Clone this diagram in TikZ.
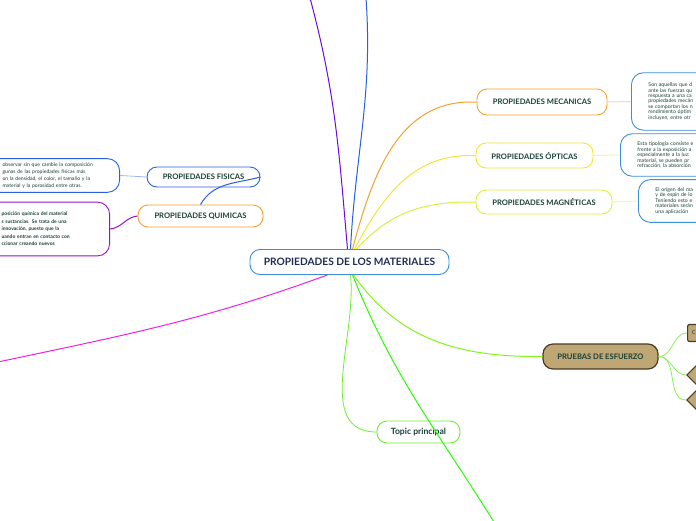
\documentclass[tikz,border=0pt]{standalone}
\usepackage{fontspec}
\setmainfont{Lato}
\usepackage{xcolor}
\usetikzlibrary{shapes.geometric,positioning}

\definecolor{txtdark}{HTML}{1A4035}
\definecolor{txtnavy}{HTML}{1E2E50}
\definecolor{bluemain}{HTML}{3A8FD8}
\definecolor{orangeb}{HTML}{F5A030}
\definecolor{yellowb}{HTML}{F5E435}
\definecolor{limeb}{HTML}{D6F23A}
\definecolor{blueb}{HTML}{2A5FE0}
\definecolor{purpleb}{HTML}{9A10D0}
\definecolor{magentab}{HTML}{F020E8}
\definecolor{tanfill}{HTML}{BFA675}
\definecolor{tandark}{HTML}{4A3C22}
\definecolor{greenb}{HTML}{6CEE2E}

\begin{document}
\begin{tikzpicture}[
  x=1pt, y=-1pt,
  topic/.style={draw, rounded corners=10pt, fill=white, line width=0.9pt, align=center, text=txtdark, font=\fontsize{7.6}{8}\selectfont\bfseries, inner sep=0pt},
  note/.style={draw, rounded corners=12pt, fill=white, line width=0.9pt, align=left, text=txtdark, inner xsep=17pt},
  link/.style={line width=1pt},
  thin/.style={line width=0.8pt}
]
\useasboundingbox (0,0) rectangle (696,520);

% central topic
\node[topic, draw=bluemain, minimum width=199pt, minimum height=25pt, text=txtnavy, font=\fontsize{10.2}{11}\selectfont\bfseries] (main) at (349.5,262) {PROPIEDADES DE LOS MATERIALES};

% main branches
\node[topic, draw=orangeb, minimum width=130pt, minimum height=26pt] (meca) at (542,102) {PROPIEDADES MECANICAS};
\node[topic, draw=yellowb, minimum width=117pt, minimum height=25pt] (opti) at (534.5,155.5) {PROPIEDADES ÓPTICAS};
\node[topic, draw=limeb, minimum width=136pt, minimum height=24pt] (magn) at (544,202) {PROPIEDADES MAGNÉTICAS};
\node[topic, draw=blueb, minimum width=113pt, minimum height=20pt] (fisi) at (203.5,177) {PROPIEDADES FISICAS};
\node[topic, draw=orangeb, minimum width=125pt, minimum height=22pt] (quim) at (200.5,216) {PROPIEDADES QUIMICAS};
\node[topic, draw=tandark, fill=tanfill, line width=1.2pt, minimum width=115pt, minimum height=25pt, text=txtdark] (prue) at (600.5,356.5) {PRUEBAS DE ESFUERZO};
\node[topic, draw=greenb, minimum width=83pt, minimum height=22pt, font=\fontsize{8.6}{9}\selectfont\bfseries] (tpri) at (418.5,432) {Topic principal};

% subtopics of PRUEBAS DE ESFUERZO
\node[draw=tandark, fill=tanfill, line width=1.2pt, rounded corners=2pt, anchor=west, minimum width=22pt, minimum height=17pt, inner sep=0pt, text=txtdark, font=\fontsize{5.5}{6}\selectfont] (prc) at (687,333) {\hspace*{2pt}C\hspace*{12pt}};
\node[diamond, draw=tandark, fill=tanfill, line width=1.2pt, anchor=west, minimum size=24pt, inner sep=0pt] (prd1) at (686,375) {};
\node[diamond, draw=tandark, fill=tanfill, line width=1.2pt, anchor=west, minimum size=24pt, inner sep=0pt] (prd2) at (686,400) {};

% notes
\node[note, draw=blueb, anchor=east, text width=100pt, inner ysep=4pt, font=\fontsize{5.1}{7}\selectfont] (nfis) at (120,175.5) {observar sin que cambie la composición\\gunas de las propiedades físicas más\\on la densidad, el color, el tamaño y la\\material y la porosidad entre otras.};
\node[note, draw=purpleb, anchor=east, text width=91pt, inner ysep=10pt, font=\fontsize{5}{7.5}\selectfont\bfseries] (nqui) at (110,229) {posición química del material\\s sustancias. Se trata de una\\innovación, puesto que la\\uando entran en contacto con\\ccionar creando nuevos};
\node[note, draw=bluemain, anchor=west, text width=80pt, inner ysep=10pt, font=\fontsize{5.2}{5.45}\selectfont] (nmec) at (631,101.5) {Son aquellas que d\\ante las fuerzas qu\\respuesta a una ca\\propiedades mecán\\se comportan los n\\rendimiento óptim\\incluyen, entre otr};
\node[note, draw=bluemain, anchor=west, text width=80pt, inner ysep=8pt, font=\fontsize{5.2}{5.5}\selectfont] (nopt) at (620,155) {Esta tipología consiste e\\frente a la exposición a\\especialmente a la luz:\\material, se pueden pr\\refracción, la absorción};
\node[note, draw=bluemain, anchor=west, text width=80pt, inner ysep=8pt, font=\fontsize{5.2}{5.5}\selectfont] (nmag) at (638,201) {El origen del ma\\y de espín de lo\\Teniendo esto e\\materiales serán\\una aplicación};

% free ends outside the page
\coordinate (topA) at (310,-2);
\coordinate (topB) at (366,-2);
\coordinate (leftA) at (-2,362);
\coordinate (botA) at (494,522);

% connectors from the central topic
\draw[link, draw=purpleb!70!blue] ([xshift=-2pt]main.north) to[out=95,in=-75] (topA);
\draw[link, draw=blueb] ([xshift=1pt]main.north) to[out=87,in=-86] (topB);
\draw[link, draw=orangeb] ([xshift=3pt]main.north) to[out=75,in=180] ([xshift=-6pt]meca.west) -- (meca.west);
\draw[link, draw=yellowb] ([xshift=5pt]main.north) to[out=62,in=180] ([xshift=-6pt]opti.west) -- (opti.west);
\draw[link, draw=limeb] ([xshift=7pt]main.north) to[out=48,in=180] ([xshift=-6pt]magn.west) -- (magn.west);
\draw[link, draw=magentab] ([xshift=-22pt]main.south) to[out=200,in=12] (leftA);
\draw[link, draw=greenb!70!lime] ([xshift=4pt]main.south) to[out=-55,in=180] ([xshift=-6pt]prue.west) -- (prue.west);
\draw[thin, draw=greenb] ([xshift=1pt]main.south) to[out=-84,in=180] (tpri.west);
\draw[link, draw=green!80!lime] ([xshift=3pt]main.south) to[out=-68,in=122] (botA);

% other connectors
\draw[link, draw=blueb] (quim.north) to[out=60,in=195] (fisi.east);
\draw[thin, draw=blueb!45] (fisi.west) -- (nfis.east);
\draw[link, draw=purpleb] (quim.west) to[out=185,in=5] (nqui.east);
\draw[link, draw=orangeb!40] (meca.east) -- (nmec.west);
\draw[link, draw=yellowb!45] (opti.east) -- (nopt.west);
\draw[link, draw=limeb!45] (magn.east) -- (nmag.west);
\draw[thin, draw=greenb!80] (prue.east) to[out=0,in=180] (prc.west);
\draw[thin, draw=greenb!80] (prue.east) to[out=0,in=180] (prd1.west);
\draw[thin, draw=greenb!80] (prue.east) to[out=0,in=180] (prd2.west);
\end{tikzpicture}
\end{document}
